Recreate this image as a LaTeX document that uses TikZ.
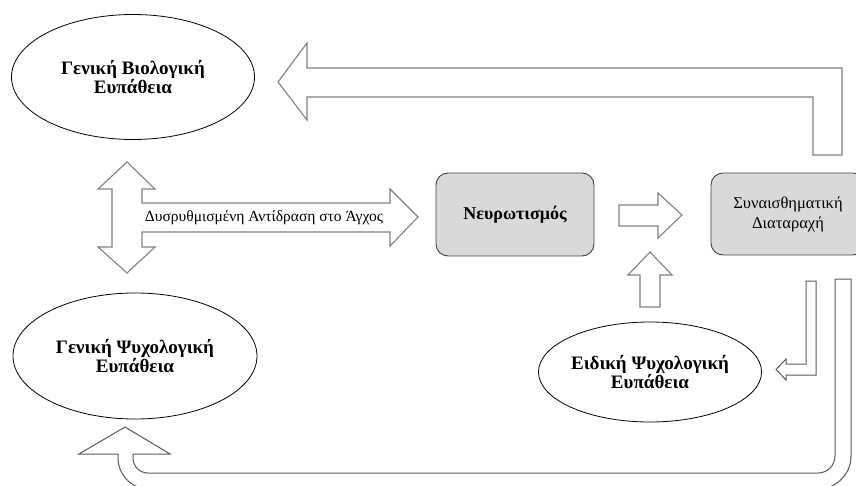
\documentclass[tikz,border=0pt]{standalone}
\usepackage{fontspec}
\setmainfont{Liberation Serif}
\usetikzlibrary{shapes.geometric}
\begin{document}
\begin{tikzpicture}[x=1pt,y=-1pt,
 ell/.style={draw=black, line width=0.8pt, ellipse, inner sep=0pt, font=\bfseries\fontsize{19}{19}\selectfont, align=center},
 gbox/.style={draw=black!75, fill=black!15, line width=0.9pt, rounded corners=12pt, inner sep=0pt, align=center},
 fat/.style={draw=black!50, line width=1.1pt, fill=white, line join=miter},
 fatd/.style={draw=black!65, line width=1pt, fill=white}]
\useasboundingbox (0,0) rectangle (856,486);

% nodes
\node[ell, minimum width=243pt, minimum height=125pt] (bio) at (133,77) {Γενική Βιολογική\\Ευπάθεια};
\node[ell, minimum width=244pt, minimum height=126pt] (psy) at (135,356) {Γενική Ψυχολογική\\Ευπάθεια};
\node[ell, minimum width=216pt, minimum height=100pt] (spec) at (650,372) {Ειδική Ψυχολογική\\Ευπάθεια};
\node[gbox, minimum width=158pt, minimum height=83pt, font=\bfseries\fontsize{18}{19}\selectfont] (neur) at (515,214.5) {Νευρωτισμός};
\node[gbox, minimum width=154pt, minimum height=82pt, font=\fontsize{16.5}{20}\selectfont] (emo) at (788,214) {Συναισθηματική\\Διαταραχή};

% top L arrow (emo -> bio)
\draw[fat] (278,82) -- (307,43) -- (307,68) -- (842,68) -- (842,155) -- (813,155) -- (813,97) -- (307,97) -- (307,120) -- cycle;

% double vertical arrow + horizontal arrow (bio <-> psy, -> neur)
\draw[fat] (127,162) -- (155,189) -- (142,189) -- (142,203) -- (390,203) -- (390,189) -- (418,217) -- (390,246) -- (390,232) -- (142,232) -- (142,247) -- (155,247) -- (127,273) -- (98,247) -- (112,247) -- (112,189) -- (98,189) -- cycle;
\node[font=\fontsize{15.5}{18}\selectfont, inner sep=0pt] (lab) at (264,218) {Δυσρυθμισμένη Αντίδραση στο Άγχος};

% small right arrow (neur -> emo)
\draw[fat] (619,205) -- (658,205) -- (658,193) -- (682,215) -- (658,238) -- (658,226) -- (619,226) -- cycle;

% up arrow (spec -> neur)
\draw[fat] (650,252) -- (672,275) -- (660,275) -- (660,307) -- (640,307) -- (640,275) -- (628,275) -- cycle;

% small L arrow (emo -> spec)
\draw[fatd] (806,281) -- (816,281) -- (816,375) -- (786,375) -- (786,380) -- (776,369.5) -- (786,359) -- (786,364) -- (806,364) -- cycle;

% big U arrow (emo -> psy)
\draw[fatd] (125,427) -- (170,454) -- (133,454) -- (133,458)
  .. controls (133,466.3) and (139.7,473) .. (148,473) -- (818,473)
  .. controls (827.4,473) and (835,465.4) .. (835,456) -- (835,279) -- (851,279) -- (851,456)
  .. controls (851,474.2) and (836.2,489) .. (818,489) -- (149,489)
  .. controls (131.9,489) and (118,475.1) .. (118,458) -- (118,454) -- (79,454) -- cycle;
\end{tikzpicture}
\end{document}
